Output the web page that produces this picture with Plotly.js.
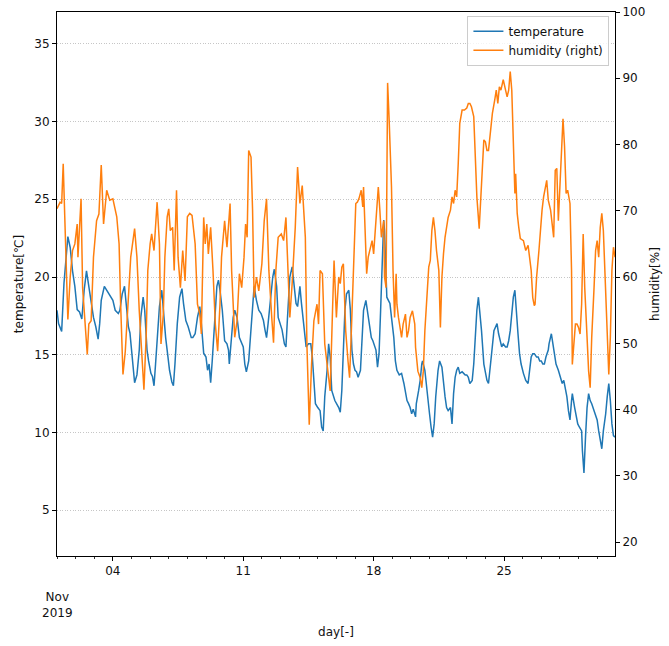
<!DOCTYPE html>
<html>
<head>
<meta charset="utf-8">
<script src="https://cdn.plot.ly/plotly-3.0.1.min.js"></script>
<style>html,body{margin:0;padding:0;background:#fff;}#chart{width:669px;height:646px;}</style>
</head>
<body>
<div id="chart"></div>
<script>
// Hours since 2019-11-01 00:00 and values
const tempHours = [0,2,6,9,14,17,20,23,26,29,32,35,38,41,44,47,50,53,55,57,61,64,68,72,75,79,81,84,87,89,92,94,97,100,103,106,108,111,113,116,118,121,123,125,127,130,132,135,137,140,143,145,148,150,152,155,158,161,163,166,169,173,175,178,181,184,
186,189,192,194,196,198,200,203,206,208,210,213,216,219,221,222,225,227,229,232,235,237,240,242,244,247,249,252,254,257,260,263,266,268,270,272,275,278,280,283,285,288,290,293,295,297,300,303,305,308,310,313,315,319,321,324,327,329,331,333,336,339,341,343,345,348,350,352,354,356,358,
363,365,367,369,371,373,376,378,380,382,384,386,388,391,393,395,398,400,403,405,407,409,411,413,415,417,419,421,422,424,425,427,429,431,434,436,438,441,444,447,449,451,453,455,457,459,462,463,466,468,470,471,474,476,478,480,482,484,486,488,491,493,496,498,500,502,504,507,509,511,513,515,517,519,522,524,526,528,530,532,535,537,539,541,543,
547,550,552,554,556,558,560,563,565,567,569,571,573,575,578,580,582,584,586,588,590,591,594,596,598,601,604,607,609,611,613,615,618,620,622,624,626,628,630,633,634,637,639,641,643,646,649,651,653,655,657,659,661,663,664,667,669,671,673,676,677,679,681,683,685,687,689,692,694,696,698,700,702,704,707,709,711,713,715,717,719];
const temperature = [17.86,17.0,16.5,19.6,22.6,21.9,20.4,19.4,17.9,17.75,17.3,19.15,20.4,19.4,18.3,17.4,16.8,16.0,17.0,18.5,19.4,19.15,18.8,18.5,17.86,17.65,17.86,18.9,19.4,18.3,16.8,16.4,14.85,13.2,13.7,15.3,17.4,18.7,17.86,15.3,14.6,13.8,13.6,13.0,14.4,16.6,18.1,19.15,17.86,16.1,14.85,14.0,13.25,13.0,14.4,17.0,18.7,19.25,18.3,17.2,16.8,16.1,16.1,16.35,17.4,18.1,
17.0,15.1,14.85,14.0,14.4,13.2,14.6,17.0,19.4,19.8,19.15,17.86,15.9,15.7,15.3,14.4,16.35,17.4,17.86,17.4,16.1,15.9,15.5,14.4,13.9,14.6,16.1,17.86,19.4,18.5,17.86,17.65,17.2,16.6,16.1,17.0,18.5,20.0,20.5,19.4,17.4,16.8,16.6,15.7,15.5,17.4,20.0,20.65,19.6,18.3,18.1,19.4,18.3,16.6,15.5,15.7,15.7,14.85,13.15,11.85,11.6,11.4,10.35,10.1,12.3,14.0,15.7,14.85,12.7,12.3,12.05,
11.6,11.3,12.7,15.3,17.86,18.9,19.15,17.86,15.3,14.4,14.0,13.9,13.55,14.0,16.1,17.86,18.5,17.86,16.8,16.1,15.9,15.5,15.3,14.2,15.1,17.86,20.4,23.66,23.0,20.4,18.7,18.5,18.3,17.4,16.1,14.6,14.0,13.7,13.8,13.15,12.6,12.05,11.85,11.6,11.2,11.5,11.0,11.85,12.7,13.35,14.4,14.6,14.0,12.9,12.05,11.2,10.35,9.7,10.55,12.3,14.0,14.6,14.2,13.15,12.3,11.6,11.4,11.6,10.55,12.5,13.55,14.0,14.2,13.8,13.9,13.8,13.7,13.7,13.55,13.15,13.35,14.4,16.1,17.86,18.7,
16.55,14.4,13.8,13.35,13.15,14.0,15.07,16.55,16.8,17.0,16.35,15.9,15.5,15.7,15.5,15.5,15.9,16.55,17.65,18.7,19.15,18.3,16.35,15.07,14.4,13.8,13.35,13.15,14.0,14.85,15.07,15.07,14.85,14.85,14.6,14.6,14.4,14.4,14.85,15.3,15.7,16.35,15.7,15.07,14.4,14.0,13.55,13.15,13.35,12.9,12.3,11.4,10.8,12.05,12.5,11.6,11.0,10.55,10.35,10.1,8.84,7.4,9.7,11.6,12.5,12.05,11.85,11.4,11.2,10.8,10.1,9.5,8.95,10.1,11.2,12.3,13.15,12.05,10.55,9.8,9.7];

const humHours = [0,4,6,8,10,14,17,20,23,26,27,31,33,37,39,41,44,47,51,54,57,60,64,68,72,77,80,82,85,88,92,95,100,103,106,109,112,115,117,120,122,125,127,129,132,134,137,139,142,144,146,149,151,154,156,159,162,165,168,171,174,178,181,184,
186,189,191,193,195,198,201,204,207,210,212,216,219,223,225,229,232,235,238,241,243,245,247,250,252,254,257,260,264,267,270,273,277,279,282,285,289,292,295,297,300,303,307,310,313,316,320,322,325,328,331,335,337,339,342,345,349,352,355,357,
360,363,365,367,369,370,372,375,377,379,382,385,387,389,392,394,395,397,399,401,403,406,408,410,412,414,416,418,421,422,424,425,426,428,431,433,435,437,438,440,442,444,446,449,451,453,455,458,461,462,465,468,470,472,474,477,479,481,483,485,487,489,492,494,496,498,500,504,507,509,511,513,515,517,519,522,525,528,530,532,534,537,539,541,
544,547,550,552,554,556,558,561,564,566,568,570,572,575,578,580,582,584,586,588,590,591,593,595,597,601,604,607,609,611,613,615,616,618,621,623,625,627,629,631,633,636,639,640,642,644,646,648,650,652,654,656,658,661,663,664,666,668,670,672,674,676,678,680,683,685,687,689,692,694,696,698,700,702,704,707,709,711,713,715,717,719];
const humidity = [70.3,71.3,71.1,77.1,69.1,53.6,60,64,65,68,63,71.8,58.4,50.4,48.3,52.9,53.4,63,68.5,69.5,76.9,68,73.1,71.6,71.8,69.1,65,55.9,45.3,48.8,56.4,63,67.3,63,54.9,48.3,43,51.4,61,65,66.5,64,68,71.3,65,49.9,54.4,63,69.1,70.3,67,67.5,61,73.1,63,58.4,64,59.4,69.1,69.6,69.3,65,55.9,54.4,
51.4,69,65,68,63.5,67.5,61,52.9,48.8,55.9,63,68.5,64.5,71.1,61,50.9,53.4,60.5,58.4,63,68,66,79.1,78.1,70.1,56.9,60,57.9,62,68.5,71.8,61,53.4,50.1,61,66,66.5,65.5,69,62,53.9,59,67.5,76.6,71.1,73.8,66,49.9,37.7,46.8,53.4,55.9,52.9,61,60.5,49.9,45.8,42.8,54.9,62.5,
53.9,60,59,61.5,62,59,51.9,47.3,44.8,50.9,61,71.1,71.3,71.8,73.1,70.6,73.6,65.5,60.5,63,64,65.5,63.5,67.5,71.1,73.6,70.1,66,68.5,60,58.4,78.6,89.3,83.7,73.6,61,53.9,60.5,55.9,53.9,52.4,50.9,52.9,54.4,50.9,51.9,53.9,54.9,52.9,49.4,45.8,44.8,43.3,45.8,51.9,58.4,61.5,62.5,67,69,67,64,61,52.4,60,63.5,66,69,70.1,72.1,71.1,73.1,72.1,77.1,83.2,85.2,85.2,85.5,86.2,86.2,85.7,84.2,78.6,72.1,
67.3,73.6,80.7,80.4,79.1,79.1,81.7,84.7,86.7,88.2,86.2,88.7,88.2,89.8,88.2,87.2,88.2,91.0,88.2,78.6,72.6,75.6,69.6,67.5,65.8,65.5,64,64.8,62.5,61,56.9,55.7,55.9,60,64,67.5,70.1,72.1,73.1,74.6,71.6,70.1,67,66,76.1,76.4,68.5,74.1,79.7,83.9,79.7,72.6,73.1,71.1,61,46.8,49.9,52.9,52.9,52.4,51.4,55.9,66.5,58.4,50.9,45.8,43.3,50.9,58.4,64,65.5,63,67.5,69.6,67,58.4,50.9,45.3,50.9,61,64.5,63];

const dayTickVals = ['2019-11-04','2019-11-11','2019-11-18','2019-11-25'];
const dayTickText = ['04','11','18','25'];
const tempTicks = [5,10,15,20,25,30,35];
const humTicks = [20,30,40,50,60,70,80,90,100];

function hourToDate(h){
  const d = new Date(Date.UTC(2019,10,1) + h*3600000);
  const p = n => String(n).padStart(2,'0');
  return d.getUTCFullYear()+'-'+p(d.getUTCMonth()+1)+'-'+p(d.getUTCDate())+' '+p(d.getUTCHours())+':00';
}

const font = {family:'DejaVu Sans, sans-serif', size:12, color:'#111'};

const traces = [
  {x: tempHours.map(hourToDate), y: temperature, type:'scatter', mode:'lines', name:'temperature',
   line:{color:'#1f77b4', width:1.5}, yaxis:'y'},
  {x: humHours.map(hourToDate), y: humidity, type:'scatter', mode:'lines', name:'humidity (right)',
   line:{color:'#ff7f0e', width:1.5}, yaxis:'y2'}
];

const layout = {
  width:669, height:646,
  margin:{l:57, r:54, t:12, b:90},
  paper_bgcolor:'#fff', plot_bgcolor:'#fff',
  font: font,
  showlegend:true,
  legend:{x:0.99, y:0.993, xanchor:'right', yanchor:'top', bgcolor:'rgba(255,255,255,0.8)',
          bordercolor:'#cccccc', borderwidth:1, font:{family:font.family, size:12, color:'#111'},
          tracegroupgap:0, itemwidth:30},
  xaxis:{type:'date', range:[hourToDate(0), hourToDate(719)],
         tickvals: dayTickVals, ticktext: dayTickText, tickmode:'array',
         ticks:'outside', ticklen:4, tickwidth:1, tickcolor:'#000',
         minor:{dtick:86400000, tick0:'2019-11-01', ticks:'outside', ticklen:2, tickwidth:0.8, tickcolor:'#000', showgrid:false},
         showgrid:false, zeroline:false, showline:true, linecolor:'#000', linewidth:1, mirror:true,
         title:{text:'day[-]', standoff:50, font:font}, automargin:false},
  yaxis:{range:[2.05,37.05], tickvals:tempTicks, tickmode:'array', ticks:'outside', ticklen:4, tickcolor:'#000',
         showgrid:true, gridcolor:'#b8b8b8', griddash:'1px,1.6px', gridwidth:0.8, zeroline:false,
         showline:true, linecolor:'#000', linewidth:1, mirror:true,
         title:{text:'temperature[℃]', standoff:8, font:font}, automargin:false},
  yaxis2:{range:[17.9,100], tickvals:humTicks, tickmode:'array', overlaying:'y', side:'right',
          ticks:'outside', ticklen:4, tickcolor:'#000', showgrid:false, zeroline:false,
          showline:true, linecolor:'#000', linewidth:1,
          title:{text:'humidity[%]', standoff:6, font:font}, automargin:false},
  annotations:[{text:'Nov<br>2019', xref:'paper', yref:'paper', x:0, y:-0.09, xanchor:'center', yanchor:'middle',
                showarrow:false, font:font, align:'center'}]
};

Plotly.newPlot('chart', traces, layout, {staticPlot:true, displayModeBar:false});
</script>
</body>
</html>
